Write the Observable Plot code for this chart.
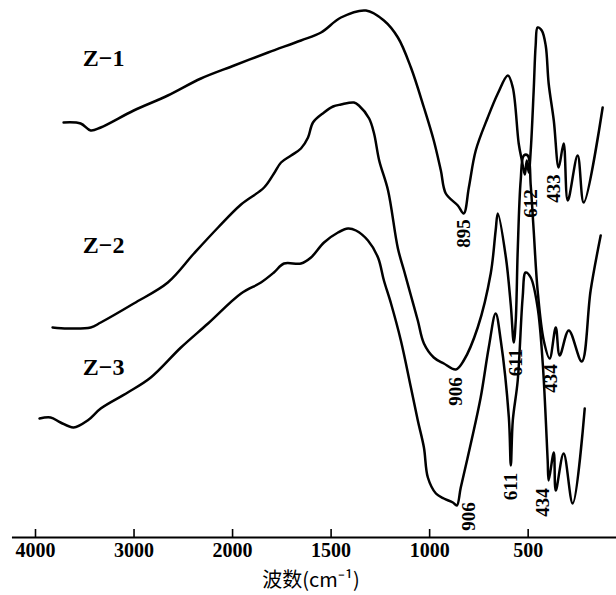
<!DOCTYPE html>
<html><head><meta charset="utf-8">
<script src="https://cdn.jsdelivr.net/npm/d3@7"></script>
<script src="https://cdn.jsdelivr.net/npm/@observablehq/plot@0.6"></script>
<style>body{margin:0;background:#fff}</style>
</head><body><div id="chart"></div>
<script>
// Wavenumber (cm-1) and relative transmittance (offset, arbitrary units)
const wnZ1 = [3715,3542,3440,3338,3003,2657,2321,1992,1820,1653,1551,1450,1323,1232,1161,1095,1029,979,943,918,857,827,801,766,705,654,603,578,548,532,517,507,497,487,472,462,452,431,411,396,370,345,320,299,249,218,122];
const tZ1  = [415,414,407,410,427,442,459,472,485,497,505,520,527,517,500,470,430,397,367,344,332,324,350,387,420,444,462,450,394,377,363,377,365,387,447,492,510,507,492,454,417,370,394,337,382,335,430];

const wnZ2 = [3827,3674,3440,3338,3003,2657,2392,2147,1957,1840,1790,1754,1703,1653,1617,1592,1536,1490,1450,1384,1359,1307,1282,1256,1211,1161,1130,1095,1060,1029,979,928,867,827,756,690,665,654,613,588,573,563,553,538,522,502,487,472,452,421,391,360,340,294,228,183,132];
const tZ2  = [210,209,210,215,234,255,284,310,333,350,364,375,382,389,400,415,425,431,433,435,432,419,404,377,347,289,267,242,217,194,180,174,168,177,210,264,307,324,280,232,195,217,287,357,382,382,352,307,247,197,179,210,182,207,176,247,302];

const wnZ3 = [3959,3847,3746,3613,3471,3338,3064,2830,2524,2249,1957,1856,1790,1739,1653,1602,1536,1465,1414,1374,1313,1262,1232,1196,1146,1095,1060,1029,1009,968,928,882,862,842,791,741,700,665,639,598,588,578,553,528,513,487,452,426,401,396,370,360,320,274,213];
const tZ3  = [119,120,115,110,117,129,145,160,190,214,244,255,265,274,274,280,295,305,309,307,297,280,257,234,197,150,117,90,60,44,39,35,32,50,94,140,190,224,197,120,72,117,157,240,265,260,230,174,77,57,85,47,84,34,129];

const seriesNames = ["Z−1","Z−2","Z−3"];
const seriesLabelWn = [3308,3308,3308];
const seriesLabelT = [479,292,170];

const peakText = ["895","612","433","906","611","434","906","611","434"];
const peakWn   = [827,487,370,867,563,386,801,589,426];
const peakT    = [304,334,349,146,175,159,21,51,35];

const tickValues = [4000,3000,2000,1500,1000,500];
const xTitle = "波数(cm⁻¹)";

const rows = [];
[[wnZ1,tZ1,0],[wnZ2,tZ2,1],[wnZ3,tZ3,2]].forEach(([w,t,k]) =>
  w.forEach((v,i) => rows.push({wn: v, t: t[i], s: seriesNames[k]})));

const zLabels = seriesNames.map((s,i) => ({s, wn: seriesLabelWn[i], t: seriesLabelT[i]}));
const peaks = peakText.map((s,i) => ({s, wn: peakWn[i], t: peakT[i]}));

const serif = "'Liberation Serif', 'DejaVu Serif', serif";

// IR convention: the region above 2000 cm-1 is drawn at half the scale of the region below
const compress = wn => wn > 2000 ? 2000 + (wn - 2000) / 2 : wn;

const chart = Plot.plot({
  width: 616, height: 595,
  marginTop: 0, marginRight: 0, marginBottom: 58, marginLeft: 0,
  x: {type: "linear", transform: compress, domain: [3000, 0], range: [35, 626.2], axis: null},
  y: {domain: [0, 537], range: [537, 0], axis: null},
  marks: [
    Plot.ruleY([0], {x1: 4234, x2: 40, stroke: "black", strokeWidth: 2}),
    Plot.ruleX(tickValues, {x: d => d, y1: 0, y2: 8, stroke: "black", strokeWidth: 1.6}),
    Plot.text(tickValues, {x: d => d, y: 0, text: d => String(d), dy: 5, lineAnchor: "top",
      fontSize: 20, fontFamily: serif, fontWeight: "bold", fill: "black"}),
    Plot.text([xTitle], {x: 1602, y: -43, text: d => d, fontSize: 20,
      fontFamily: "'Noto Sans CJK SC', sans-serif", fill: "black"}),
    Plot.line(rows, {x: "wn", y: "t", z: "s", curve: "catmull-rom", stroke: "black", strokeWidth: 2.5}),
    Plot.text(zLabels, {x: "wn", y: "t", text: "s", fontSize: 24, fontFamily: serif,
      fontWeight: "bold", fill: "black", letterSpacing: "2px"}),
    Plot.text(peaks, {x: "wn", y: "t", text: "s", rotate: -90, fontSize: 19, fontFamily: serif,
      fontWeight: "bold", fill: "black"})
  ]
});
document.getElementById("chart").append(chart);
</script>
</body></html>
